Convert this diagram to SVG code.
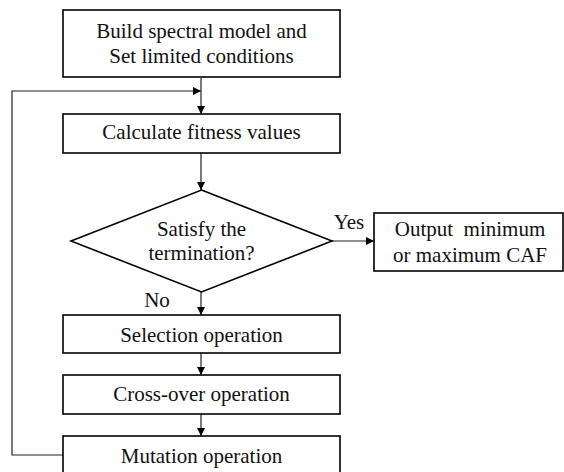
<svg xmlns="http://www.w3.org/2000/svg" width="564" height="472" viewBox="0 0 564 472">
<style>
.box{fill:#fff;stroke:#000;stroke-width:1.6}
.t{font-family:"Liberation Serif","Times New Roman",serif;font-size:21px;fill:#111;text-anchor:middle}
.c{fill:none;stroke:#222;stroke-width:1.2}
</style>
<defs>
<marker id="a" viewBox="0 0 10 10" refX="10" refY="5" markerWidth="8" markerHeight="8" markerUnits="userSpaceOnUse" orient="auto">
<path d="M0,0 L10,5 L0,10 z" fill="#000"/>
</marker>
</defs>
<rect width="564" height="472" fill="#fff"/>
<g id="connectors">
<line class="c" x1="201" y1="78" x2="201" y2="114" marker-end="url(#a)"/>
<polyline class="c" points="63,455 12,455 12,91 201,91" marker-end="url(#a)"/>
<line class="c" x1="201" y1="153" x2="201" y2="190" marker-end="url(#a)"/>
<line class="c" x1="332" y1="241" x2="374" y2="241" marker-end="url(#a)"/>
<line class="c" x1="201" y1="292" x2="201" y2="315" marker-end="url(#a)"/>
<line class="c" x1="201" y1="353" x2="201" y2="375" marker-end="url(#a)"/>
<line class="c" x1="201" y1="414" x2="201" y2="436" marker-end="url(#a)"/>
<text class="t" x="349" y="229">Yes</text>
<text class="t" x="157" y="307">No</text>
</g>
<g id="build">
<rect class="box" x="63" y="10" width="277" height="67"/>
<text class="t" x="201.5" y="38">Build spectral model and</text>
<text class="t" x="201.5" y="63">Set limited conditions</text>
</g>
<g id="calc">
<rect class="box" x="63" y="114" width="277" height="39"/>
<text class="t" x="201.5" y="139">Calculate fitness values</text>
</g>
<g id="decision">
<polygon class="box" points="201.5,190 332,241 201.5,292 71,241"/>
<text class="t" x="201.5" y="236">Satisfy the</text>
<text class="t" x="201.5" y="260">termination?</text>
</g>
<g id="output">
<rect class="box" x="374" y="213" width="189" height="58"/>
<text class="t" x="470" y="236" xml:space="preserve">Output  minimum</text>
<text class="t" x="470" y="262">or maximum CAF</text>
</g>
<g id="selection">
<rect class="box" x="63" y="315" width="277" height="38"/>
<text class="t" x="201.5" y="342">Selection operation</text>
</g>
<g id="crossover">
<rect class="box" x="63" y="375" width="277" height="39"/>
<text class="t" x="201.5" y="401">Cross-over operation</text>
</g>
<g id="mutation">
<rect class="box" x="63" y="436" width="277" height="40"/>
<text class="t" x="201.5" y="463">Mutation operation</text>
</g>
</svg>
